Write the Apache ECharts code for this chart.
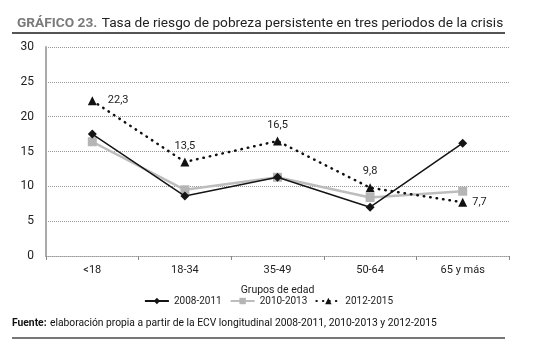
<!DOCTYPE html>
<html><head><meta charset="utf-8">
<script src="https://cdn.jsdelivr.net/npm/echarts@6/dist/echarts.min.js"></script>
<style>html,body{margin:0;padding:0;background:#fff}#c{width:537px;height:355px}</style>
</head><body><div id="c"></div>
<script>
const categories = ['<18', '18-34', '35-49', '50-64', '65 y más'];
const s2008 = [17.5, 8.6, 11.3, 7.0, 16.2];
const s2010 = [16.4, 9.5, 11.3, 8.4, 9.3];
const s2012 = [22.3, 13.5, 16.5, 9.8, 7.7];
const seriesNames = ['2008-2011', '2010-2013', '2012-2015'];
const yTicks = [0, 5, 10, 15, 20, 25, 30];

const FONT = 'Roboto';
const chart = echarts.init(document.getElementById('c'), null, {renderer: 'canvas'});
const fmt = v => String(v).replace('.', ',');

chart.setOption({
  animation: false,
  textStyle: {fontFamily: FONT},
  title: {
    left: 12, top: 10,
    text: '{a|GRÁFICO 23.} {b|Tasa de riesgo de pobreza persistente en tres periodos de la crisis}',
    textStyle: {
      fontWeight: 'normal',
      rich: {
        a: {fontFamily: FONT, fontSize: 13.7, fontWeight: 'bold', color: '#7a7a7a'},
        b: {fontFamily: FONT, fontSize: 13.7, fontWeight: 'normal', color: '#222'}
      }
    }
  },
  graphic: [
    {type: 'line', shape: {x1: 12, y1: 33, x2: 505, y2: 33}, style: {stroke: '#555', lineWidth: 2}},
    {type: 'text', left: 12, top: 317, style: {
      text: '{a|Fuente:} {b|elaboración propia a partir de la ECV longitudinal 2008-2011, 2010-2013 y 2012-2015}',
      rich: {
        a: {fontFamily: FONT, fontSize: 10.3, fontWeight: 'bold', fill: '#111'},
        b: {fontFamily: FONT, fontSize: 10.3, fill: '#111'}
      }
    }},
    {type: 'line', shape: {x1: 12, y1: 338, x2: 505, y2: 338}, style: {stroke: '#777', lineWidth: 2}}
  ],
  legend: {
    bottom: 44, left: 'center',
    itemWidth: 24, itemHeight: 8, itemGap: 8,
    textStyle: {fontFamily: FONT, fontSize: 10, color: '#222'},
    data: seriesNames
  },
  grid: {left: 46, right: 28, top: 47, bottom: 99},
  xAxis: {
    type: 'category', data: categories, boundaryGap: true,
    name: 'Grupos de edad', nameLocation: 'middle', nameGap: 29,
    nameTextStyle: {fontFamily: FONT, fontSize: 10.5, color: '#222'},
    axisLine: {lineStyle: {color: '#999', type: 'dotted', width: 1}},
    axisTick: {show: true, length: 4, lineStyle: {color: '#888'}},
    axisLabel: {fontFamily: FONT, fontSize: 11, color: '#222', margin: 9}
  },
  yAxis: {
    type: 'value', min: 0, max: 30, interval: 5,
    axisLine: {show: true, lineStyle: {color: '#aaa', width: 2}},
    axisTick: {show: false},
    axisLabel: {fontFamily: FONT, fontSize: 12, color: '#222', margin: 12,
      formatter: v => yTicks.includes(v) ? String(v) : ''},
    splitLine: {lineStyle: {color: '#999', type: 'dotted', width: 1}}
  },
  series: [
    {
      name: seriesNames[0], type: 'line', data: s2008, z: 4,
      symbol: 'diamond', symbolSize: 9,
      itemStyle: {color: '#151515'},
      lineStyle: {color: '#151515', width: 1.5}
    },
    {
      name: seriesNames[1], type: 'line', data: s2010, z: 3,
      symbol: 'rect', symbolSize: 9,
      itemStyle: {color: '#b5b5b5'},
      lineStyle: {color: '#bdbdbd', width: 2.5}
    },
    {
      name: seriesNames[2], type: 'line', z: 5,
      data: s2012.map((v, i) => ({
        value: v,
        label: {position: i === 0 ? 'right' : (i === 4 ? 'right' : 'top'),
                offset: i === 0 ? [6, 0] : (i === 4 ? [0, 0] : [0, -1])}
      })),
      symbol: 'triangle', symbolSize: 9,
      itemStyle: {color: '#111'},
      lineStyle: {color: '#111', width: 2.5, type: [0.5, 6], cap: 'round'},
      label: {show: true, fontFamily: FONT, fontSize: 11, color: '#222',
        formatter: p => fmt(p.value)}
    }
  ]
});
</script></body></html>
